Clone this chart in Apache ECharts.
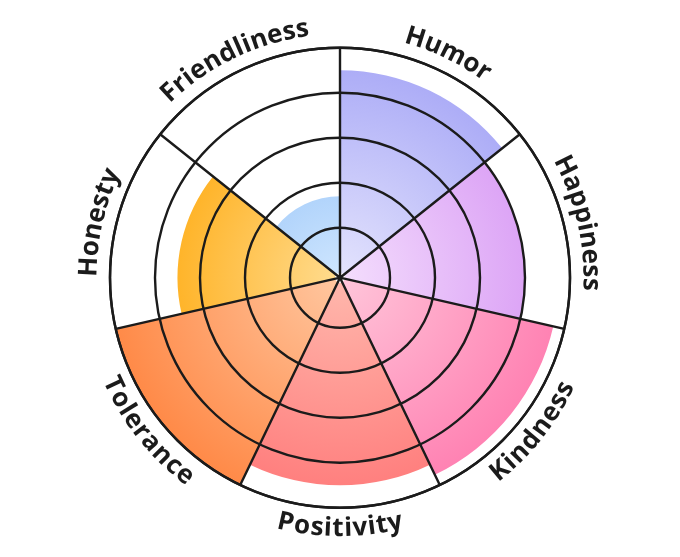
<!DOCTYPE html>
<html>
<head>
<meta charset="utf-8">
<script src="https://cdn.jsdelivr.net/npm/echarts@6/dist/echarts.min.js"></script>
<style>
  html, body { margin: 0; padding: 0; background: #fff; }
  #main { width: 680px; height: 557px; }
</style>
</head>
<body>
<div id="main"></div>
<script>
const categories = ['Humor', 'Happiness', 'Kindness', 'Positivity', 'Tolerance', 'Honesty', 'Friendliness']
const values = [4.5, 4, 4.75, 4.5, 5, 3.5, 1.7]
const innerColors = ['#e4e4fd', '#f4defd', '#ffc6da', '#ffb8ad', '#ffc7a0', '#ffdc90', '#cfe6fe']
const outerColors = ['#a7a7f6', '#d797f4', '#ff7fb1', '#ff7a7a', '#ff8a48', '#ffa400', '#7db4f6']

const cx = 340
const cy = 277.7
const outerR = 230
const lineColor = '#1b1b1b'

// curved category labels, one text element per letter
function buildLabels() {
  const fontSize = 26
  const spacing = 0.5
  const R = 251
  const ctx = document.createElement('canvas').getContext('2d')
  ctx.font = 'bold ' + fontSize + 'px "Open Sans"'
  const step = 2 * Math.PI / categories.length
  const out = []
  categories.forEach((name, i) => {
    const mid = Math.PI / 2 - (i + 0.5) * step
    const upper = Math.sin(mid) > 0
    const chars = name.split('')
    const widths = chars.map((c) => ctx.measureText(c).width)
    const total = widths.reduce((a, b) => a + b, 0) + spacing * (chars.length - 1)
    let acc = 0
    chars.forEach((c, k) => {
      const s = acc + widths[k] / 2 - total / 2
      acc += widths[k] + spacing
      const a = upper ? mid - s / R : mid + s / R
      out.push({
        type: 'text',
        x: cx + R * Math.cos(a),
        y: cy - R * Math.sin(a),
        rotation: upper ? a - Math.PI / 2 : a + Math.PI / 2,
        style: {
          text: c,
          fill: '#1b1b1b',
          fontSize: fontSize,
          fontWeight: 'bold',
          fontFamily: 'Open Sans',
          align: 'center',
          verticalAlign: 'middle'
        }
      })
    })
  })
  return out
}

const chart = echarts.init(document.getElementById('main'))
chart.setOption({
  backgroundColor: '#ffffff',
  animation: false,
  polar: {
    center: [cx, cy],
    radius: [0, outerR]
  },
  angleAxis: {
    type: 'category',
    data: categories,
    startAngle: 90,
    clockwise: true,
    z: 5,
    axisLine: { show: true, lineStyle: { color: lineColor, width: 2.4 } },
    axisTick: { show: false },
    axisLabel: { show: false },
    splitLine: { show: true, lineStyle: { color: lineColor, width: 2.4 } }
  },
  radiusAxis: {
    type: 'value',
    min: -1 / 9,
    max: 5,
    z: 5,
    axisLine: { show: false },
    axisTick: { show: false },
    axisLabel: { show: false },
    splitLine: {
      show: true,
      lineStyle: {
        color: ['rgba(0,0,0,0)', 'rgba(0,0,0,0)', lineColor, lineColor, lineColor, lineColor, lineColor],
        width: 2.4
      }
    }
  },
  series: [
    {
      type: 'bar',
      coordinateSystem: 'polar',
      barCategoryGap: '0%',
      data: values.map((v, i) => ({
        value: v,
        itemStyle: {
          color: {
            type: 'radial',
            x: cx,
            y: cy,
            r: outerR,
            global: true,
            colorStops: [
              { offset: 0, color: innerColors[i] },
              { offset: 1, color: outerColors[i] }
            ]
          }
        }
      }))
    }
  ],
  graphic: buildLabels()
})
</script>
</body>
</html>
